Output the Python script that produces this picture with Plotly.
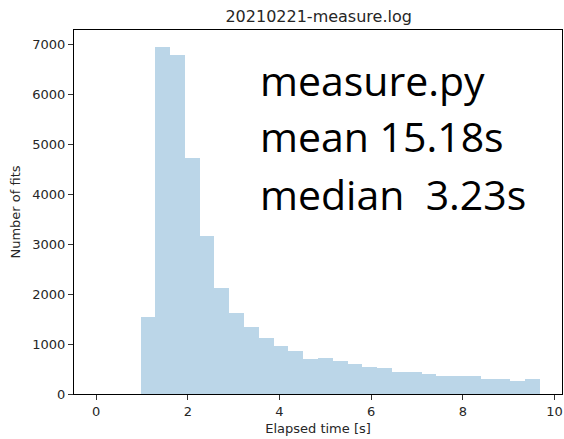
import plotly.graph_objects as go
import numpy as np

title = "20210221-measure.log"
x_label = "Elapsed time [s]"
y_label = "Number of fits"
annot_lines = ["measure.py", "mean 15.18s", "median\u00a0\u00a03.23s"]

bin_start = 0.0
bin_end = 9.68
n_bins = 30
counts = [0, 0, 0, 1540, 6940, 6787, 4733, 3157, 2114, 1615,
          1340, 1120, 965, 864, 704, 730, 664, 604, 531, 511,
          431, 431, 405, 359, 359, 359, 292, 292, 252, 292]

x_ticks = [0, 2, 4, 6, 8, 10]
y_ticks = [0, 1000, 2000, 3000, 4000, 5000, 6000, 7000]

edges = np.linspace(bin_start, bin_end, n_bins + 1)
centers = (edges[:-1] + edges[1:]) / 2
width = edges[1] - edges[0]

fig = go.Figure()
fig.add_trace(go.Bar(
    x=centers, y=counts, width=[width] * n_bins,
    marker=dict(color="rgba(31,119,180,0.3)", line=dict(width=0)),
    hoverinfo="x+y",
))

span = bin_end - bin_start
fig.update_layout(
    width=564, height=439,
    margin=dict(l=74, r=2, t=30, b=45),
    paper_bgcolor="white", plot_bgcolor="white",
    showlegend=False, bargap=0,
    font=dict(family="DejaVu Sans", size=13, color="#262626"),
    title=dict(text=title, x=0.565, xanchor="center", y=0.963, yanchor="middle",
               font=dict(size=16, color="#262626")),
)
fig.update_xaxes(
    range=[bin_start - 0.05 * span, bin_end + 0.05 * span],
    tickvals=x_ticks, ticktext=[str(v) for v in x_ticks],
    ticks="outside", ticklen=5, tickcolor="#333", tickwidth=1,
    showline=True, linecolor="black", linewidth=1, mirror=True,
    showgrid=False, zeroline=False,
    title=dict(text=x_label, font=dict(size=13), standoff=6),
)
fig.update_yaxes(
    range=[0, max(counts) * 1.05],
    tickvals=y_ticks, ticktext=[str(v) for v in y_ticks],
    ticks="outside", ticklen=5, tickcolor="#333", tickwidth=1,
    showline=True, linecolor="black", linewidth=1, mirror=True,
    showgrid=False, zeroline=False,
    title=dict(text=y_label, font=dict(size=13), standoff=8),
)

ys = [0.864, 0.708, 0.55]
for txt, yy in zip(annot_lines, ys):
    fig.add_annotation(
        text=txt, xref="paper", yref="paper", x=0.377, y=yy,
        xanchor="left", yanchor="middle", showarrow=False,
        font=dict(family="Open Sans", size=41, color="black"),
    )

fig.write_html("out.html")
